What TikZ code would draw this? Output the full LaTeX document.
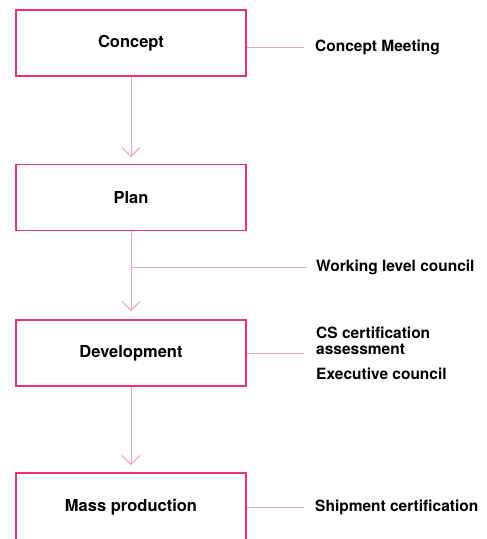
\documentclass[tikz,border=0pt]{standalone}
\usepackage{fontspec}
\setmainfont{TeX Gyre Heros}
\usetikzlibrary{arrows.meta}
\definecolor{boxpink}{HTML}{F0306E}
\definecolor{linepink}{HTML}{F5A2B8}
\begin{document}
\begin{tikzpicture}[x=1pt,y=-1pt,
  stage/.style={draw=boxpink,line width=1.4pt,minimum width=230pt,minimum height=66pt,inner sep=0pt,font=\fontsize{16.5}{19}\selectfont\bfseries},
  lbl/.style={anchor=west,inner sep=0pt,align=left,font=\fontsize{15.5}{16}\selectfont\bfseries},
  conn/.style={draw=linepink,line width=1pt},
  flow/.style={conn,-{Straight Barb[length=9pt,width=18pt,line width=1pt]}}]
\useasboundingbox (0,0) rectangle (487,539);
\clip (0,0) rectangle (487,539);
\node[stage] (concept) at (131,43) {Concept};
\node[stage] (plan) at (131,197.5) {Plan};
\node[stage] (dev) at (131,353) {Development};
\node[stage,minimum height=76pt] (mass) at (131,511) {};
\node[font=\fontsize{16.5}{19}\selectfont\bfseries] (masst) at (131,507) {Mass production};
\node[lbl] (cm) at (315,47) {Concept Meeting};
\node[lbl] (wlc) at (316,267) {Working level council};
\node[lbl] (cs) at (316,341) {CS certification\\assessment};
\node[lbl] (ec) at (316,374) {Executive council};
\node[lbl] (sc) at (315,507) {Shipment certification};
\coordinate (ct) at (131,157);
\coordinate (dt) at (131,311);
\coordinate (mt) at (131,465);
\coordinate (br) at (131,267);
\coordinate (de) at (304,353);
\draw[flow] (concept.south) -- (ct);
\draw[flow] (plan.south) -- (dt);
\draw[flow] (dev.south) -- (mt);
\draw[conn] (br) -- ([xshift=-9pt]wlc.west);
\draw[conn] (concept.east |- cm.west) -- ([xshift=-11pt]cm.west);
\draw[conn] (dev.east) -- (de);
\draw[conn] (mass.east |- sc.west) -- ([xshift=-11pt]sc.west);
\end{tikzpicture}
\end{document}
